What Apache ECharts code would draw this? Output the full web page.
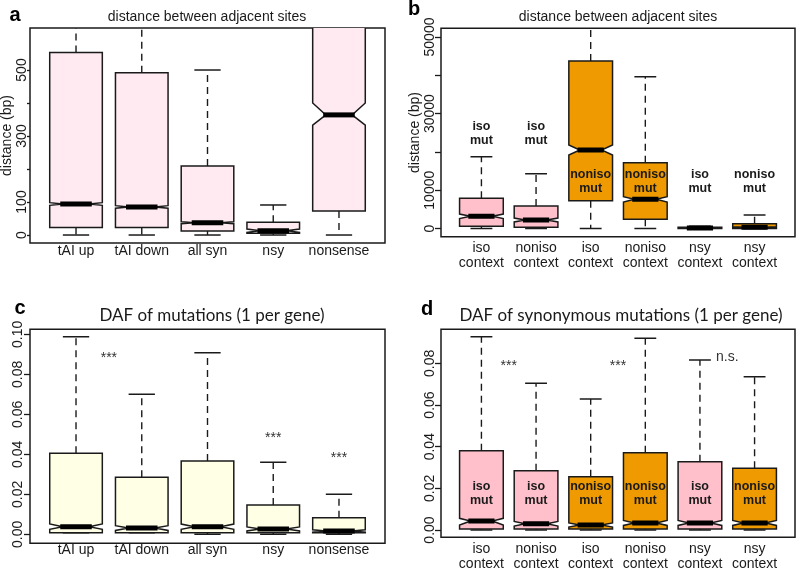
<!DOCTYPE html>
<html><head><meta charset="utf-8">
<script src="https://cdn.jsdelivr.net/npm/echarts@6/dist/echarts.min.js"></script>
<style>html,body{margin:0;padding:0;background:#fff}#c{width:797px;height:569px}</style>
</head><body><div id="c"></div>
<script>
// ---------- Panel a : distance between adjacent sites ----------
const catsA = ['tAI up', 'tAI down', 'all syn', 'nsy', 'nonsense'];
const minA = [0, 0, 0, 0, 0];
const q1A = [23, 23, 12, 5, 73];
const medA = [94, 85, 37, 13, 364];
const q3A = [553, 492, 209, 39, 1000];
const maxA = [1300, 1200, 500, 91, 2400];
const notchLoA = [90, 81, 34, 8, 333];
const notchHiA = [98, 89, 40, 18, 400];
const yTicksA = [0, 100, 200, 300, 400, 500];
const yLabelsA = [0, 100, 300, 500];

// ---------- Panel b : distance between adjacent sites (context) ----------
const catsB = ['iso\ncontext', 'noniso\ncontext', 'iso\ncontext', 'noniso\ncontext', 'nsy\ncontext', 'nsy\ncontext'];
const mutB = ['iso', 'iso', 'noniso', 'noniso', 'iso', 'noniso'];
const minB = [0, 0, 0, 0, 0, 0];
const q1B = [570, 310, 7260, 2400, 0, 0];
const medB = [3180, 2220, 20500, 7620, 100, 310];
const q3B = [7880, 5870, 43730, 17180, 300, 1250];
const maxB = [18750, 14300, 95000, 39630, 600, 3520];
const notchLoB = [2580, 1720, 19200, 6920, 50, 160];
const notchHiB = [3780, 2720, 21800, 8320, 150, 460];
const mutLabelYB = [24850, 24850, 12140, 12140, 12140, 12140];
const yTicksB = [0, 10000, 20000, 30000, 40000, 50000];
const yLabelsB = [0, 10000, 30000, 50000];

// ---------- Panel c : DAF of mutations ----------
const catsC = ['tAI up', 'tAI down', 'all syn', 'nsy', 'nonsense'];
const minC = [0.0008, 0.0008, 0, 0, 0];
const q1C = [0.0008, 0.0008, 0.0008, 0.0008, 0.0008];
const medC = [0.0038, 0.0031, 0.0038, 0.0027, 0.0017];
const q3C = [0.0405, 0.0285, 0.0367, 0.0147, 0.0083];
const maxC = [0.0988, 0.0700, 0.0908, 0.0360, 0.0200];
const notchLoC = [0.0025, 0.0019, 0.0025, 0.0017, 0.0011];
const notchHiC = [0.0052, 0.0043, 0.0051, 0.0037, 0.0023];
const starsC = [[1.5, 0.0897], [4, 0.0497], [5, 0.0397]];
const starTextC = ['***', '***', '***'];
const yTicksC = [0, 0.02, 0.04, 0.06, 0.08, 0.10];

// ---------- Panel d : DAF of synonymous mutations ----------
const catsD = ['iso\ncontext', 'noniso\ncontext', 'iso\ncontext', 'noniso\ncontext', 'nsy\ncontext', 'nsy\ncontext'];
const mutD = ['iso', 'iso', 'noniso', 'noniso', 'iso', 'noniso'];
const minD = [0, 0, 0, 0, 0, 0];
const q1D = [0.0005, 0.0005, 0.0005, 0.0005, 0.0005, 0.0005];
const medD = [0.0043, 0.0030, 0.0024, 0.0034, 0.0034, 0.0034];
const q3D = [0.0381, 0.0285, 0.0256, 0.0371, 0.0328, 0.0296];
const maxD = [0.0928, 0.0704, 0.0629, 0.0920, 0.0816, 0.0736];
const notchLoD = [0.0024, 0.0019, 0.0014, 0.0022, 0.0022, 0.0022];
const notchHiD = [0.0056, 0.0041, 0.0034, 0.0046, 0.0046, 0.0046];
const mutLabelYD = [0.0174, 0.0174, 0.0174, 0.0174, 0.0174, 0.0174];
const starsD = [[1.5, 0.0802], [3.5, 0.0802], [5.5, 0.0845]];
const starTextD = ['***', '***', 'n.s.'];
const yTicksD = [0, 0.02, 0.04, 0.06, 0.08];

// ---------- styling ----------
const INK = '#1a1a1a';
const PINK = '#FFC0CB', ORANGE = '#EE9A00', LIGHTPINK = '#FFEAF2', LIGHTYELLOW = '#FFFFE6';
const SANS = '"Liberation Sans", Arial, sans-serif';
const TFONT = 'Lato, "Open Sans", sans-serif';
const mutColor = m => (m === 'iso' ? PINK : ORANGE);

function boxData(mn, q1, md, q3, mx, nl, nh) {
  return mn.map((_, i) => [i + 1, mn[i], q1[i], md[i], q3[i], mx[i], nl[i], nh[i]]);
}

function boxSeries(gi, data, fillOf) {
  return {
    type: 'custom', xAxisIndex: gi, yAxisIndex: gi, clip: true,
    encode: { x: 0, y: [1, 2, 3, 4, 5] },
    data: data,
    renderItem: function (params, api) {
      const x = api.value(0);
      const v = [1, 2, 3, 4, 5, 6, 7].map(i => api.value(i));
      const py = val => api.coord([x, val])[1];
      const cx = api.coord([x, v[2]])[0];
      const hw = api.size([0.8, 0])[0] / 2;
      const cw = api.size([0.4, 0])[0] / 2;
      const [ymn, yq1, ymd, yq3, ymx, ynl, ynh] = v.map(py);
      const ls = { stroke: INK, lineWidth: 1.5 };
      const dash = { stroke: INK, lineWidth: 1.4, lineDash: [7, 5] };
      return {
        type: 'group',
        children: [
          { type: 'line', shape: { x1: cx, y1: yq3, x2: cx, y2: ymx }, style: dash },
          { type: 'line', shape: { x1: cx, y1: yq1, x2: cx, y2: ymn }, style: dash },
          { type: 'line', shape: { x1: cx - cw, y1: ymx, x2: cx + cw, y2: ymx }, style: ls },
          { type: 'line', shape: { x1: cx - cw, y1: ymn, x2: cx + cw, y2: ymn }, style: ls },
          {
            type: 'polygon',
            shape: { points: [[cx - hw, yq3], [cx + hw, yq3], [cx + hw, ynh], [cx + hw / 2, ymd], [cx + hw, ynl],
              [cx + hw, yq1], [cx - hw, yq1], [cx - hw, ynl], [cx - hw / 2, ymd], [cx - hw, ynh]] },
            style: { fill: fillOf(params.dataIndex), stroke: INK, lineWidth: 1.5 }
          },
          { type: 'line', shape: { x1: cx - hw * 0.6, y1: ymd, x2: cx + hw * 0.6, y2: ymd }, style: { stroke: '#000', lineWidth: 5 } }
        ]
      };
    }
  };
}

function textSeries(gi, pts, texts, font, dy, color) {
  return {
    type: 'custom', xAxisIndex: gi, yAxisIndex: gi, clip: false,
    encode: { x: 0, y: 1 },
    data: pts,
    z: 10,
    renderItem: function (params, api) {
      const p = api.coord([api.value(0), api.value(1)]);
      return {
        type: 'text', x: p[0], y: p[1] + dy,
        style: { text: texts[params.dataIndex], font: font, fill: color || INK, textAlign: 'center', textVerticalAlign: 'middle', lineHeight: 14 }
      };
    }
  };
}

function xAxisCfg(gi, cats, min, max, margin) {
  return {
    gridIndex: gi, type: 'value', min: min, max: max,
    axisLine: { show: false }, axisTick: { show: false }, splitLine: { show: false },
    axisLabel: {
      customValues: cats.map((_, i) => i + 1),
      formatter: v => cats[Math.round(v) - 1],
      fontSize: 14, fontFamily: SANS, color: INK, margin: margin, lineHeight: 15
    }
  };
}

function yAxisCfg(gi, min, max, ticks, labels, tickLen, margin, fmt, name, nameGap) {
  return {
    gridIndex: gi, type: 'value', min: min, max: max,
    axisLine: { show: false }, splitLine: { show: false },
    axisTick: { show: true, length: tickLen, customValues: ticks, lineStyle: { color: INK, width: 1.3 } },
    axisLabel: { customValues: labels, rotate: 90, fontSize: 14, fontFamily: SANS, color: INK, margin: margin, formatter: fmt },
    name: name, nameLocation: 'middle', nameGap: nameGap, nameRotate: 90,
    nameTextStyle: { fontSize: 14, fontFamily: SANS, color: INK }
  };
}

const gridBase = { show: true, borderColor: INK, borderWidth: 1.5, backgroundColor: 'transparent', containLabel: false, outerBoundsMode: 'none' };

const option = {
  animation: false,
  backgroundColor: '#fff',
  grid: [
    Object.assign({ left: 30, top: 28, width: 355, height: 215 }, gridBase),
    Object.assign({ left: 441, top: 28.3, width: 354, height: 208.4 }, gridBase),
    Object.assign({ left: 30, top: 329.3, width: 355, height: 214 }, gridBase),
    Object.assign({ left: 441, top: 329.3, width: 354, height: 208 }, gridBase)
  ],
  xAxis: [
    xAxisCfg(0, catsA, 0.3, 5.7, 1),
    xAxisCfg(1, catsB, 0.26, 6.74, 4),
    xAxisCfg(2, catsC, 0.3, 5.7, -1),
    xAxisCfg(3, catsD, 0.26, 6.74, 4)
  ],
  yAxis: [
    yAxisCfg(0, -24.2, 627.3, yTicksA, yLabelsA, 3, 1, v => String(v), 'distance (bp)', 15),
    yAxisCfg(1, -2141, 52272, yTicksB, yLabelsB, 6, 4, v => String(v), 'distance (bp)', 11),
    yAxisCfg(2, -0.0045, 0.1025, yTicksC, yTicksC, 6, 5, v => v.toFixed(2), '', 0),
    yAxisCfg(3, -0.0035, 0.09635, yTicksD, yTicksD, 6, 4, v => v.toFixed(2), '', 0)
  ],
  series: [
    boxSeries(0, boxData(minA, q1A, medA, q3A, maxA, notchLoA, notchHiA), () => LIGHTPINK),
    boxSeries(1, boxData(minB, q1B, medB, q3B, maxB, notchLoB, notchHiB), i => mutColor(mutB[i])),
    boxSeries(2, boxData(minC, q1C, medC, q3C, maxC, notchLoC, notchHiC), () => LIGHTYELLOW),
    boxSeries(3, boxData(minD, q1D, medD, q3D, maxD, notchLoD, notchHiD), i => mutColor(mutD[i])),
    textSeries(1, mutB.map((_, i) => [i + 1, mutLabelYB[i]]), mutB.map(m => m + '\nmut'), 'bold 12.5px ' + SANS, 0),
    textSeries(3, mutD.map((_, i) => [i + 1, mutLabelYD[i]]), mutD.map(m => m + '\nmut'), 'bold 12.5px ' + SANS, 0),
    textSeries(2, starsC, starTextC, '14px ' + SANS, 3.5, '#333'),
    textSeries(3, starsD, starTextD, '14px ' + SANS, 3.5, '#333')
  ],
  graphic: [
    { type: 'text', x: 207, y: 17, style: { text: 'distance between adjacent sites', font: '14px ' + SANS, fill: INK, textAlign: 'center', textVerticalAlign: 'middle' } },
    { type: 'text', x: 618, y: 17, style: { text: 'distance between adjacent sites', font: '14px ' + SANS, fill: INK, textAlign: 'center', textVerticalAlign: 'middle' } },
    { type: 'text', x: 212, y: 315.5, style: { text: 'DAF of mutations (1 per gene)', font: '17px ' + TFONT, fill: INK, textAlign: 'center', textVerticalAlign: 'middle' } },
    { type: 'text', x: 621, y: 315.5, style: { text: 'DAF of synonymous mutations (1 per gene)', font: '17px ' + TFONT, fill: INK, textAlign: 'center', textVerticalAlign: 'middle' } },
    { type: 'text', x: 15, y: 15, style: { text: 'a', font: 'bold 20px ' + SANS, fill: '#000', textAlign: 'center', textVerticalAlign: 'middle' } },
    { type: 'text', x: 414, y: 9, style: { text: 'b', font: 'bold 20px ' + SANS, fill: '#000', textAlign: 'center', textVerticalAlign: 'middle' } },
    { type: 'text', x: 20, y: 308, style: { text: 'c', font: 'bold 20px ' + SANS, fill: '#000', textAlign: 'center', textVerticalAlign: 'middle' } },
    { type: 'text', x: 427, y: 309, style: { text: 'd', font: 'bold 20px ' + SANS, fill: '#000', textAlign: 'center', textVerticalAlign: 'middle' } }
  ]
};

const chart = echarts.init(document.getElementById('c'));
chart.setOption(option);
</script>
</body></html>
